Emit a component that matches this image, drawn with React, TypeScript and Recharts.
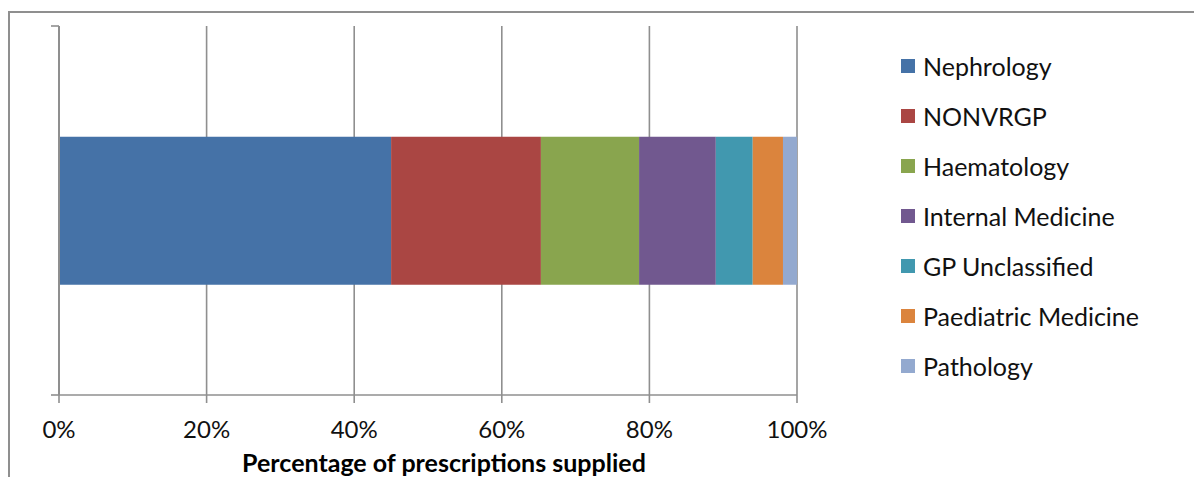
import React from 'react';
import { BarChart, Bar, XAxis, YAxis, CartesianGrid, Legend, Label } from 'recharts';

const categories = ['Prescriptions'];
const seriesNames = ['Nephrology', 'NONVRGP', 'Haematology', 'Internal Medicine', 'GP Unclassified', 'Paediatric Medicine', 'Pathology'];
const seriesValues = [45.0, 20.3, 13.3, 10.4, 5.0, 4.1, 1.9];
const seriesColors = ['#4572A7', '#AA4643', '#89A54E', '#71588F', '#4198AF', '#DB843D', '#93A9CF'];
const xTicks = [0, 20, 40, 60, 80, 100];

const FONT = 'Lato, "Open Sans", sans-serif';
const AXIS_GREY = '#8f8f8f';
const LEGEND_W = 290;

const data = categories.map(c => {
  const row: any = { name: c };
  seriesNames.forEach((s, i) => { row[s] = seriesValues[i]; });
  return row;
});

const LegendBox = () => (
  <div style={{ fontFamily: FONT, fontSize: 25, color: '#111' }}>
    {seriesNames.map((s, i) => (
      <div key={s} style={{ height: 50, display: 'flex', alignItems: 'center' }}>
        <span style={{ width: 14, height: 14, background: seriesColors[i], display: 'inline-block', marginRight: 8 }} />
        <span>{s}</span>
      </div>
    ))}
  </div>
);

// Excel puts the category tick marks on the band edges, not in the middle
const BandEdgeTick = (props: any) => {
  const { x, y, height } = props;
  const half = height / 2;
  return (
    <g>
      <line x1={x - 8} x2={x} y1={y - half} y2={y - half} stroke={AXIS_GREY} strokeWidth={1.6} />
      <line x1={x - 8} x2={x} y1={y + half} y2={y + half} stroke={AXIS_GREY} strokeWidth={1.6} />
    </g>
  );
};

export default function App() {
  return (
    <div style={{ position: 'absolute', left: 0, top: 0, width: 1194, height: 477, overflow: 'hidden', background: '#fff' }}>
      {/* outer chart-area border, runs off the right and bottom edges */}
      <div style={{ position: 'absolute', left: 8, top: 11, width: 1300, height: 600, border: `2px solid ${AXIS_GREY}`, boxSizing: 'border-box' }} />
      <div style={{ position: 'absolute', left: 0, top: 0 }}>
        <BarChart
          width={1194}
          height={477}
          data={data}
          layout="vertical"
          barCategoryGap="30%"
          margin={{ top: 26, right: 397 - LEGEND_W, bottom: 52, left: 58 }}
        >
          <CartesianGrid horizontal={false} stroke={AXIS_GREY} strokeWidth={1.6} />
          <XAxis
            type="number"
            domain={[0, 100]}
            ticks={xTicks}
            tickFormatter={(v: number) => `${v}%`}
            tickSize={8}
            tickMargin={18}
            height={30}
            stroke={AXIS_GREY}
            axisLine={{ stroke: AXIS_GREY, strokeWidth: 1.6 }}
            tickLine={{ stroke: AXIS_GREY, strokeWidth: 1.6 }}
            tick={{ fill: '#111', fontSize: 24, fontFamily: FONT }}
          >
            <Label
              content={(props: any) => {
                const vb = props.viewBox || { x: 59, y: 395, width: 738 };
                return (
                  <text x={vb.x + vb.width / 2 + 16} y={vb.y + 77} textAnchor="middle" fontFamily={FONT} fontWeight="bold" fontSize={25} fill="#000">
                    Percentage of prescriptions supplied
                  </text>
                );
              }}
            />
          </XAxis>
          <YAxis
            type="category"
            dataKey="name"
            width={1}
            tickSize={0}
            tickMargin={0}
            tickLine={false}
            tick={<BandEdgeTick />}
            axisLine={{ stroke: AXIS_GREY, strokeWidth: 2 }}
          />
          <Legend
            layout="horizontal"
            align="right"
            verticalAlign="middle"
            content={() => <LegendBox />}
            wrapperStyle={{ left: 901, top: 41, width: LEGEND_W, height: 350 }}
          />
          {seriesNames.map((s, i) => (
            <Bar key={s} dataKey={s} stackId="a" fill={seriesColors[i]} isAnimationActive={false} />
          ))}
        </BarChart>
      </div>
    </div>
  );
}
